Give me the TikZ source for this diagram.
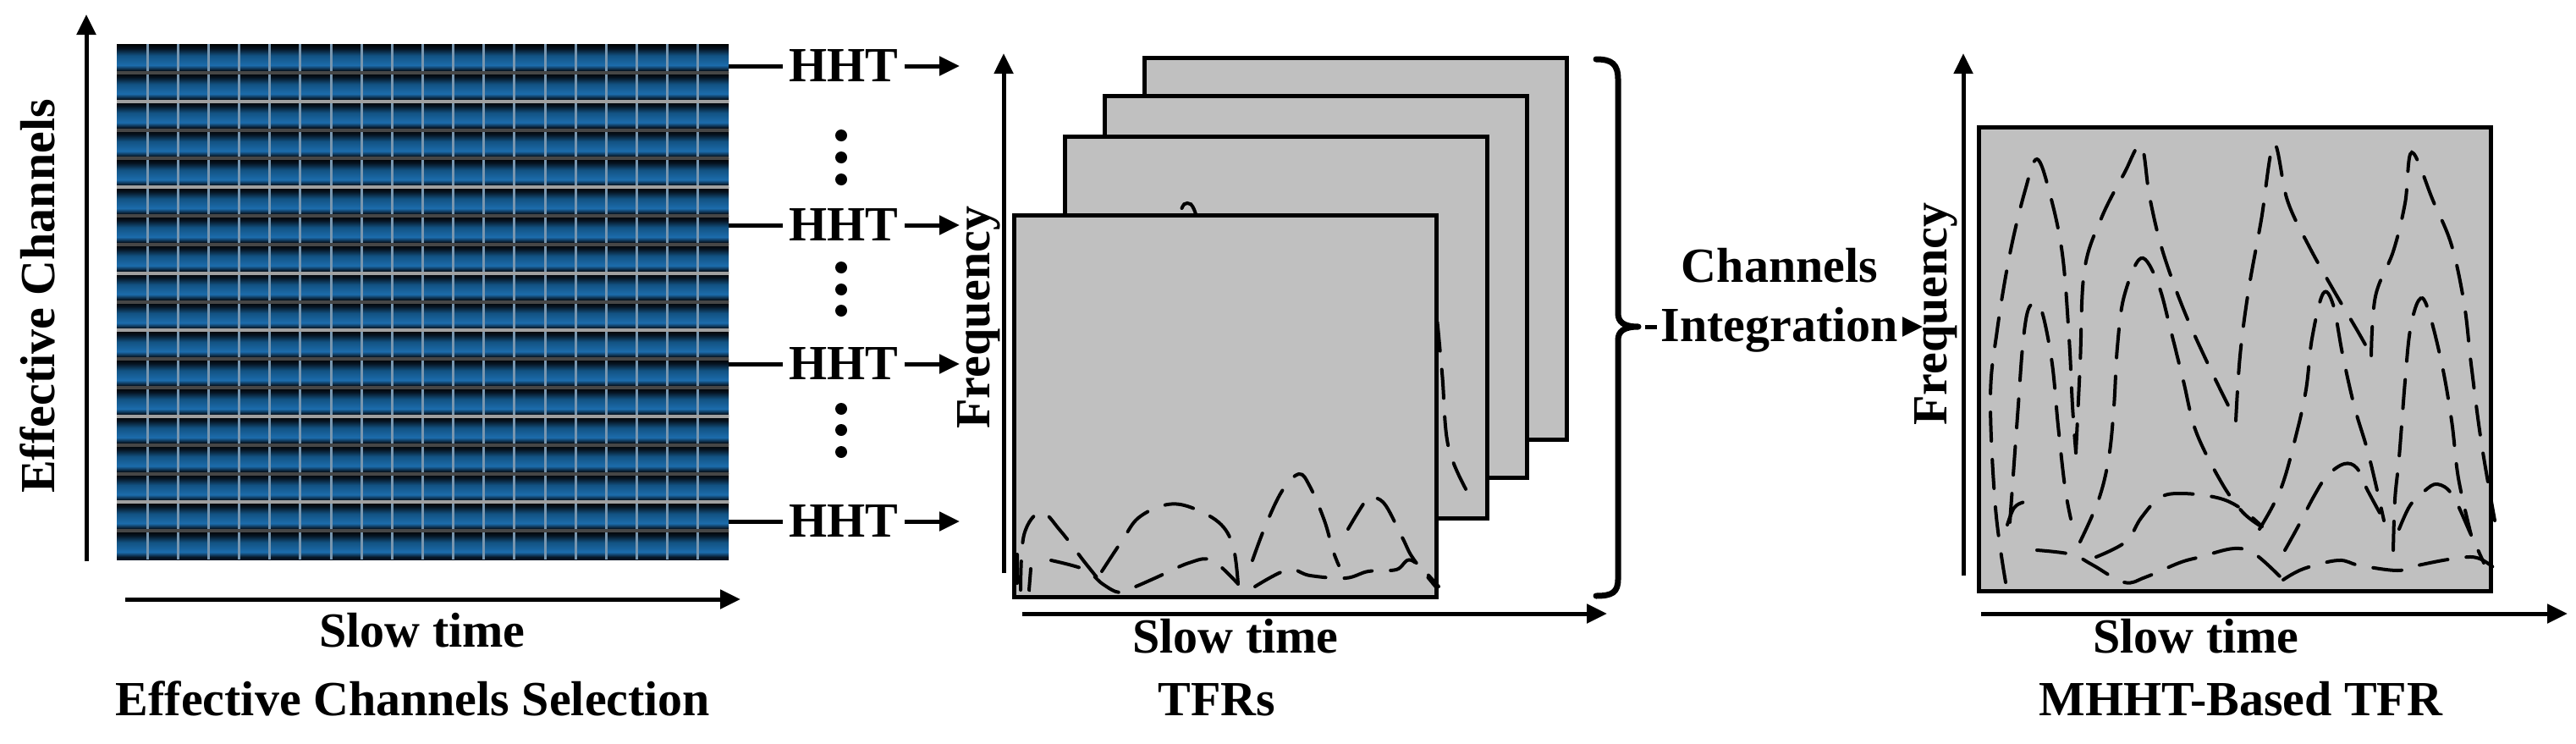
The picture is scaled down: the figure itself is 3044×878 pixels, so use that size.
\documentclass[tikz,border=0pt]{standalone}
\usepackage{fontspec}
\setmainfont{Liberation Serif}
\usetikzlibrary{arrows.meta}
\definecolor{cellbright}{RGB}{28,108,172}
\definecolor{cellmid}{RGB}{18,82,130}
\definecolor{celldark}{RGB}{6,20,34}
\definecolor{vlinec}{RGB}{120,150,175}
\definecolor{hlight}{RGB}{160,160,160}
\definecolor{hdark}{RGB}{70,70,70}
\definecolor{panelgray}{RGB}{192,192,192}
\pgfdeclareverticalshading{cellshade}{100bp}{color(0bp)=(celldark); color(25bp)=(celldark); color(29bp)=(celldark); color(38bp)=(cellbright); color(55bp)=(cellmid); color(67bp)=(celldark); color(75bp)=(black); color(100bp)=(black)}
\begin{document}
\begin{tikzpicture}[x=0.5pt,y=-0.5pt,
  lbl/.style={font=\fontsize{29}{34}\selectfont\bfseries, inner sep=0pt},
  arr/.style={line width=2.5pt, -{Triangle[length=12pt,width=11pt]}},
  plain/.style={line width=2.5pt},
  tfr/.style={draw, fill=panelgray, line width=2.5pt, inner sep=0pt, minimum width=249.5pt, minimum height=225.5pt},
  curve/.style={line width=2pt, dash pattern=on 17pt off 11pt, line cap=round},
  dotn/.style={circle, fill=black, inner sep=0pt, minimum size=7pt},
  bracestyle/.style={line width=3.5pt, line cap=round, line join=round}]
\useasboundingbox (0,0) rectangle (3044,878);

% ---------- Panel 1: effective channels grid ----------
\foreach \i in {0,...,17}
  \shade[shading=cellshade] (138,{52+\i*33.833}) rectangle (861,{52+(\i+1)*33.833});
\foreach \j in {1,...,19}
  \draw[vlinec, line width=1.5pt] ({138+\j*36.15},52) -- ({138+\j*36.15},661);
\foreach \j/\c in {1/hdark,2/hlight,3/hdark,4/hdark,5/hlight,6/hdark,7/hdark,8/hlight,9/hdark,10/hlight,11/hdark,12/hdark,13/hlight,14/hdark,15/hdark,16/hlight,17/hdark}
  \draw[\c, line width=2pt] (138,{52+\j*33.833}) -- (861,{52+\j*33.833});
\node[inner sep=0pt, minimum width=361.5pt, minimum height=304.5pt] (grid) at (499.5,356.5) {};

\coordinate (a1o) at (102,663); \coordinate (a1y) at (102,17);
\draw[arr] (a1o) -- (a1y);
\coordinate (a1s) at (148,708); \coordinate (a1x) at (875,708);
\draw[arr] (a1s) -- (a1x);
\node[lbl, rotate=90, anchor=base] (ylab1) at (64,350) {Effective Channels};
\node[lbl, anchor=base] (xlab1) at (499,764) {Slow time};
\node[lbl, anchor=base] (title1) at (488,845) {Effective Channels Selection};

% ---------- HHT connectors ----------
\node[lbl, anchor=base, inner xsep=3.5pt] (h1) at (997,96) {HHT};
\node[lbl, anchor=base, inner xsep=3.5pt] (h2) at (997,284) {HHT};
\node[lbl, anchor=base, inner xsep=3.5pt] (h3) at (997,448) {HHT};
\node[lbl, anchor=base, inner xsep=3.5pt] (h4) at (997,634) {HHT};
\coordinate (t1) at (1134,78); \coordinate (t2) at (1134,266);
\coordinate (t3) at (1134,430); \coordinate (t4) at (1134,616);
\foreach \k in {1,2,3,4}{
  \draw[plain] (grid.east |- t\k) -- (h\k.west |- t\k);
  \draw[arr] (h\k.east |- t\k) -- (t\k);
}
\node[dotn] (d1a) at (994,160) {}; \node[dotn] (d1b) at (994,186) {}; \node[dotn] (d1c) at (994,212) {};
\node[dotn] (d2a) at (994,316) {}; \node[dotn] (d2b) at (994,342) {}; \node[dotn] (d2c) at (994,367) {};
\node[dotn] (d3a) at (994,483) {}; \node[dotn] (d3b) at (994,508) {}; \node[dotn] (d3c) at (994,534) {};

% ---------- Panel 2: TFR stack ----------
\node[tfr] (r4) at (1601.5,293.5) {};
\node[tfr] (r3) at (1554.5,338.5) {};
\node[tfr] (r2) at (1507.5,386.5) {};
\draw[curve] plot[smooth, tension=0.6] coordinates {(1682,270) (1695,350) (1704,440) (1712,530) (1740,592)};
\draw[curve] plot[smooth, tension=0.6] coordinates {(1382,300) (1395,250) (1403,240) (1412,250) (1425,300)};
\node[tfr] (r1) at (1447.5,479.5) {};
\draw[curve] (1202,655) -- (1202,697) -- (1216,697) -- (1218,672);
\draw[curve] plot[smooth, tension=0.6] coordinates {(1206,697) (1210,632) (1230,605) (1253,627) (1280,662) (1296,682)};
\draw[curve] plot[smooth, tension=0.6] coordinates {(1242,662) (1282,673) (1303,690) (1323,700) (1342,693) (1367,682) (1405,665) (1432,662) (1463,690)};
\draw[curve] plot[smooth, tension=0.6] coordinates {(1302,675) (1327,637) (1345,612) (1375,597) (1403,598) (1440,617) (1457,645) (1463,690)};
\draw[curve] plot[smooth, tension=0.6] coordinates {(1480,662) (1495,622) (1515,580) (1535,560) (1548,575) (1565,615) (1575,650) (1582,668)};
\draw[curve] plot[smooth, tension=0.6] coordinates {(1483,693) (1522,673) (1548,680) (1590,683) (1617,675) (1650,673) (1668,662) (1700,693)};
\draw[curve] plot[smooth, tension=0.6] coordinates {(1593,625) (1615,590) (1625,588) (1638,598) (1658,637) (1670,660) (1698,695)};

\coordinate (a2o) at (1186,677); \coordinate (a2y) at (1186,63);
\draw[arr] (a2o) -- (a2y);
\coordinate (a2s) at (1208,725); \coordinate (a2x) at (1899,725);
\draw[arr] (a2s) -- (a2x);
\node[lbl, rotate=90, anchor=base] (ylab2) at (1169,375) {Frequency};
\node[lbl, anchor=base] (xlab2) at (1460,771) {Slow time};
\node[lbl, anchor=base] (title2) at (1438,845) {TFRs};

% ---------- Brace and channels integration ----------
\coordinate (bt1) at (1886,70); \coordinate (bt2) at (1886,704);
\coordinate (bt) at (1944,386);
\draw[bracestyle] (bt1) .. controls (1905,70) and (1912,76) .. (1912,94) -- (1912,370)
  .. controls (1912,380) and (1918,386) .. (1936,386)
  .. controls (1918,386) and (1912,392) .. (1912,402) -- (1912,684)
  .. controls (1912,700) and (1905,704) .. (bt2);
\node[lbl, anchor=base] (ci1) at (2103,333) {Channels};
\node[lbl, anchor=base, inner xsep=2pt] (ci2) at (2103,403) {Integration};
\coordinate (ie) at (2272,386);
\draw[plain] (bt) -- (ci2.west |- bt);
\draw[arr] (ci2.east |- bt) -- (ie);

% ---------- Panel 3: MHHT-based TFR ----------
\node[draw, fill=panelgray, line width=2.5pt, inner sep=0pt, minimum width=302.5pt, minimum height=274pt] (mh) at (2640.5,424) {};
\draw[curve] plot[smooth, tension=0.6] coordinates {(2370,688) (2358,600) (2352,470) (2360,390) (2375,300) (2393,225) (2407,188) (2422,228) (2437,300) (2445,400) (2449,480) (2453,535)};
\draw[curve] plot[smooth, tension=0.6] coordinates {(2453,535) (2458,430) (2463,320) (2483,258) (2510,205) (2530,172) (2540,232) (2555,295) (2580,365) (2610,432) (2642,497)};
\draw[curve] plot[smooth, tension=0.6] coordinates {(2642,497) (2647,420) (2657,343) (2672,260) (2687,170) (2703,237) (2728,290) (2757,342) (2787,393) (2802,420)};
\draw[curve] plot[smooth, tension=0.6] coordinates {(2802,420) (2807,350) (2828,297) (2842,240) (2850,180) (2875,237) (2897,290) (2912,360) (2920,430) (2932,522) (2948,615)};
\draw[curve] plot[smooth, tension=0.6] coordinates {(2375,617) (2380,547) (2385,478) (2390,410) (2396,368) (2405,358) (2414,372) (2425,430) (2432,503) (2440,575) (2447,613)};
\draw[curve] plot[smooth, tension=0.6] coordinates {(2458,640) (2480,590) (2492,540) (2498,480) (2502,410) (2510,350) (2530,305) (2550,335) (2565,390) (2580,450) (2595,510) (2625,570) (2650,605) (2672,622)};
\draw[curve] plot[smooth, tension=0.6] coordinates {(2670,625) (2695,578) (2713,515) (2725,460) (2732,400) (2745,347) (2757,360) (2768,418) (2782,480) (2797,530) (2808,575) (2817,615)};
\draw[curve] plot[smooth, tension=0.6] coordinates {(2828,650) (2830,590) (2835,540) (2842,450) (2848,390) (2858,355) (2868,362) (2885,428) (2897,497) (2905,565) (2920,632)};
\draw[curve] plot[smooth, tension=0.6] coordinates {(2477,658) (2512,640) (2530,612) (2552,588) (2578,583) (2620,588) (2647,600) (2673,622)};
\draw[curve] plot[smooth, tension=0.6] coordinates {(2700,650) (2715,623) (2735,585) (2750,562) (2770,548) (2785,553) (2797,578) (2817,615)};
\draw[curve] plot[smooth, tension=0.6] coordinates {(2835,625) (2848,597) (2865,580) (2880,572) (2898,585) (2920,632) (2935,665)};
\draw[curve] plot[smooth, tension=0.6] coordinates {(2372,620) (2380,600) (2392,593) (2405,592)};
\draw[curve] plot[smooth, tension=0.6] coordinates {(2407,650) (2448,655) (2472,667) (2510,688) (2535,682) (2575,665) (2600,658) (2640,648) (2665,655) (2698,685)};
\draw[curve] plot[smooth, tension=0.6] coordinates {(2698,685) (2722,672) (2763,662) (2788,668) (2833,674) (2857,668) (2900,660) (2930,660) (2962,683)};

\coordinate (a3o) at (2320,680); \coordinate (a3y) at (2320,63);
\draw[arr] (a3o) -- (a3y);
\coordinate (a3s) at (2341,725); \coordinate (a3x) at (3034,725);
\draw[arr] (a3s) -- (a3x);
\node[lbl, rotate=90, anchor=base] (ylab3) at (2300,371) {Frequency};
\node[lbl, anchor=base] (xlab3) at (2595,771) {Slow time};
\node[lbl, anchor=base] (title3) at (2648,845) {MHHT-Based TFR};
\end{tikzpicture}
\end{document}
